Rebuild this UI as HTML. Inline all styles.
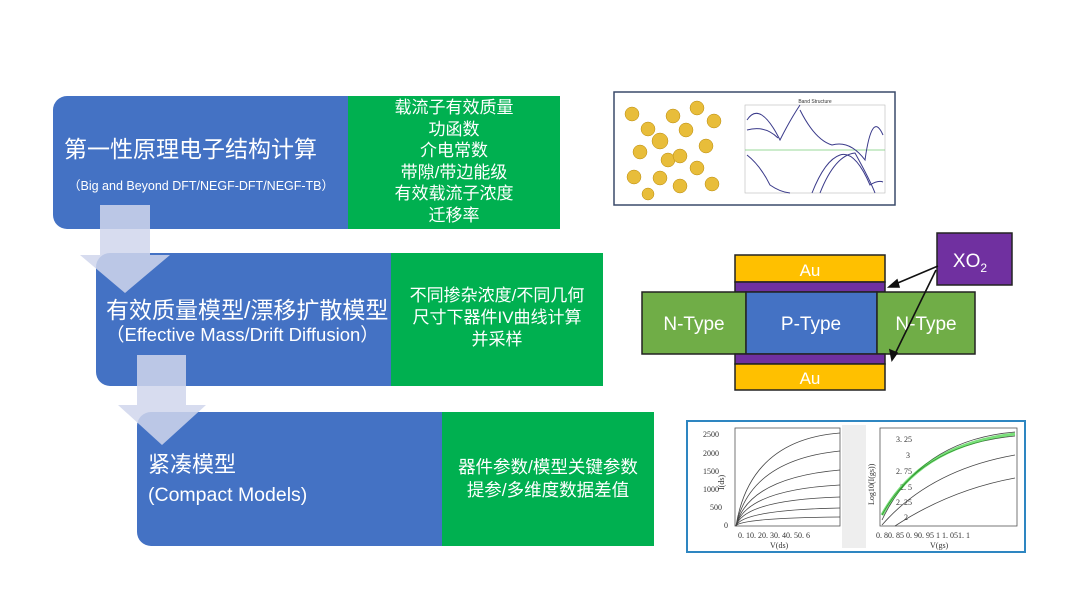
<!DOCTYPE html>
<html><head><meta charset="utf-8"><style>
html,body{margin:0;padding:0;background:#fff;}
body{width:1080px;height:608px;position:relative;overflow:hidden;font-family:"Liberation Sans","Noto Sans CJK SC",sans-serif;}
.b{position:absolute;background:#4472C4;border-radius:14px 0 0 14px;color:#fff;}
.g{position:absolute;background:#00B050;color:#fff;text-align:center;}
.t{position:absolute;white-space:nowrap;color:#fff;}
</style></head><body>
<div class="b" style="left:53px;top:96px;width:300px;height:133px;"></div>
<div class="g" style="left:348px;top:96px;width:212px;height:133px;font-size:17px;line-height:21.5px;box-sizing:border-box;padding-top:1px;">载流子有效质量<br>功函数<br>介电常数<br>带隙/带边能级<br>有效载流子浓度<br>迁移率</div>
<div class="t" style="left:64px;top:130px;font-size:23px;">第一性原理电子结构计算</div>
<div class="t" style="left:68px;top:175px;font-size:12.5px;">（Big and Beyond DFT/NEGF-DFT/NEGF-TB）</div>

<div class="b" style="left:96px;top:253px;width:300px;height:133px;"></div>
<div class="g" style="left:391px;top:253px;width:212px;height:133px;font-size:17px;line-height:22px;box-sizing:border-box;padding-top:32px;">不同掺杂浓度/不同几何<br>尺寸下器件IV曲线计算<br>并采样</div>
<div class="t" style="left:106px;top:291px;font-size:23px;">有效质量模型/漂移扩散模型</div>
<div class="t" style="left:106px;top:321px;font-size:18.5px;">（Effective Mass/Drift Diffusion）</div>

<div class="b" style="left:137px;top:412px;width:310px;height:134px;"></div>
<div class="g" style="left:442px;top:412px;width:212px;height:134px;font-size:17.5px;line-height:23px;box-sizing:border-box;padding-top:44px;">器件参数/模型关键参数<br>提参/多维度数据差值</div>
<div class="t" style="left:148px;top:447px;font-size:22px;">紧凑模型</div>
<div class="t" style="left:148px;top:484px;font-size:19.5px;">(Compact Models)</div>

<svg style="position:absolute;left:0;top:0" width="1080" height="608">
<polygon points="100,205 150,205 150,255 170,255 125,293 80,255 100,255" fill="#d0d6ec" fill-opacity="0.85"/>
<polygon points="137,355 186,355 186,405 206,405 162,445 118,405 137,405" fill="#d0d6ec" fill-opacity="0.85"/>

<rect x="614" y="92" width="281" height="113" fill="#fff" stroke="#3a4a6a" stroke-width="1.5"/>
<g fill="#e8bd3a" stroke="#b88a10" stroke-width="0.5">
<circle cx="632" cy="114" r="7"/><circle cx="673" cy="116" r="7"/><circle cx="697" cy="108" r="7"/><circle cx="714" cy="121" r="7"/>
<circle cx="648" cy="129" r="7"/><circle cx="686" cy="130" r="7"/><circle cx="660" cy="141" r="8"/><circle cx="706" cy="146" r="7"/>
<circle cx="640" cy="152" r="7"/><circle cx="668" cy="160" r="7"/><circle cx="680" cy="156" r="7"/><circle cx="697" cy="168" r="7"/>
<circle cx="634" cy="177" r="7"/><circle cx="660" cy="178" r="7"/><circle cx="680" cy="186" r="7"/><circle cx="712" cy="184" r="7"/><circle cx="648" cy="194" r="6"/>
</g>
<rect x="745" y="105" width="140" height="88" fill="none" stroke="#bbb" stroke-width="0.6"/>
<line x1="745" y1="150" x2="885" y2="150" stroke="#7c7" stroke-width="0.8"/>
<text x="815" y="103" font-size="5" text-anchor="middle" fill="#333">Band Structure</text>
<g fill="none" stroke="#3a3a8a" stroke-width="1">
<path d="M747,120 Q760,100 780,140 Q790,120 800,105"/><path d="M747,130 Q765,125 778,138"/>
<path d="M747,155 Q760,165 770,185 Q780,192 790,193"/><path d="M800,110 Q815,140 832,145 Q850,140 865,160 Q872,110 883,135"/>
<path d="M812,193 Q825,160 840,155 Q855,150 870,185 Q878,180 883,182"/><path d="M820,193 Q835,155 855,153 Q870,180 875,193"/>
</g>

<rect x="735" y="255" width="150" height="27" fill="#FFC000" stroke="#222" stroke-width="1.5"/>
<rect x="735" y="282" width="150" height="10" fill="#7030A0" stroke="#222" stroke-width="1.5"/>
<rect x="642" y="292" width="104" height="62" fill="#70AD47" stroke="#222" stroke-width="1.5"/>
<rect x="746" y="292" width="131" height="62" fill="#4472C4" stroke="#222" stroke-width="1.5"/>
<rect x="877" y="292" width="98" height="62" fill="#70AD47" stroke="#222" stroke-width="1.5"/>
<rect x="735" y="354" width="150" height="10" fill="#7030A0" stroke="#222" stroke-width="1.5"/>
<rect x="735" y="364" width="150" height="26" fill="#FFC000" stroke="#222" stroke-width="1.5"/>
<rect x="937" y="233" width="75" height="52" fill="#7030A0" stroke="#222" stroke-width="1.5"/>
<g fill="#fff" font-family="Liberation Sans,sans-serif" text-anchor="middle">
<text x="810" y="276" font-size="17">Au</text>
<text x="810" y="384" font-size="17">Au</text>
<text x="694" y="330" font-size="19">N-Type</text>
<text x="811" y="330" font-size="19">P-Type</text>
<text x="926" y="330" font-size="19">N-Type</text>
<text x="970" y="267" font-size="19">XO<tspan font-size="12" dy="5">2</tspan></text>
</g>
<g stroke="#111" stroke-width="1.6" fill="#111">
<line x1="938" y1="266" x2="893" y2="285"/><polygon points="889,287 897,280 899,287"/>
<line x1="936" y1="270" x2="894" y2="356"/><polygon points="892,360 890,350 897,353"/>
</g>

<rect x="687" y="421" width="338" height="131" fill="#fff" stroke="#2e86c1" stroke-width="2"/>
<rect x="842" y="425" width="24" height="123" fill="#eee"/>
<rect x="735" y="428" width="105" height="98" fill="none" stroke="#555" stroke-width="0.8"/>
<rect x="880" y="428" width="137" height="98" fill="none" stroke="#555" stroke-width="0.8"/>
<g font-size="8" font-family="Liberation Serif,serif" fill="#333">
<text x="703" y="437">2500</text><text x="703" y="456">2000</text><text x="703" y="474">1500</text><text x="703" y="492">1000</text><text x="710" y="510">500</text><text x="724" y="528">0</text>
<text x="738" y="538">0. 10. 20. 30. 40. 50. 6</text><text x="770" y="548">V(ds)</text>
<text x="896" y="442">3. 25</text><text x="906" y="458">3</text><text x="896" y="474">2. 75</text><text x="900" y="490">2. 5</text><text x="896" y="505">2. 25</text><text x="904" y="520">2</text>
<text x="876" y="538">0. 80. 85 0. 90. 95 1 1. 051. 1</text><text x="930" y="548">V(gs)</text>
<text transform="translate(724,490) rotate(-90)">I(ds)</text>
<text transform="translate(874,505) rotate(-90)">Log10(I(gs))</text>
</g>
<g fill="none" stroke="#444" stroke-width="0.8">
<path d="M736,526 Q750,440 840,433"/><path d="M736,526 Q750,460 840,451"/><path d="M736,526 Q748,478 840,470"/>
<path d="M736,526 Q746,490 840,485"/><path d="M736,526 Q744,500 840,497"/><path d="M736,526 Q742,510 840,508"/><path d="M736,526 Q740,518 840,517"/>
<path d="M882,520 Q920,440 1015,432"/><path d="M882,515 Q920,445 1015,436"/><path d="M882,525 Q930,470 1015,455"/><path d="M895,526 Q950,490 1015,478"/>
</g>
<g fill="none" stroke="#2c2" stroke-width="3" opacity="0.6"><path d="M882,515 Q920,445 1015,434"/></g>
</svg>
</body></html>
